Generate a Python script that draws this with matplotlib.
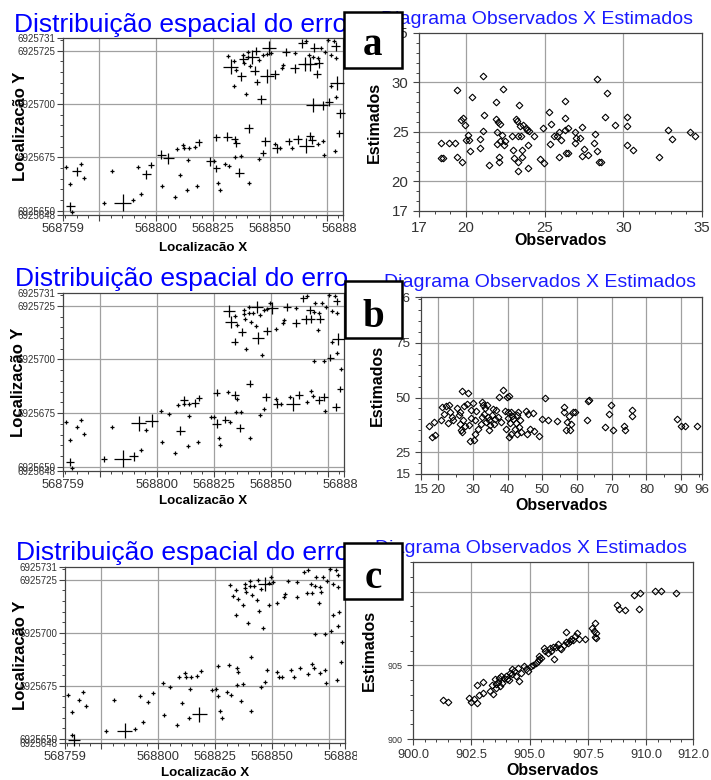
import numpy as np
import matplotlib.pyplot as plt
from matplotlib.patches import Rectangle
from matplotlib.ticker import MultipleLocator

plt.rcParams['font.family'] = ['Liberation Sans', 'DejaVu Sans']

# --- data -----------------------------------------------------------------
X0, Y0 = 568700, 6925600   # UTM base, locations below are offsets

loc_x = [60.4, 62.2, 65.0, 66.8, 68.4, 62.2, 63.0, 76.9, 80.4, 85.2,
         89.9, 92.1, 93.1, 95.5, 97.8, 102.1, 102.3, 105.3, 108.0, 109.2,
         110.4, 111.8, 112.1, 114.0, 114.3, 113.6, 116.8, 118.6, 118.0, 123.6,
         125.3, 126.3, 130.1, 131.9, 136.4, 127.2, 127.9, 140.7, 140.7, 126.4,
         131.1, 134.5, 135.1, 134.6, 137.0, 145.3, 146.8, 147.9, 152.2, 152.8,
         154.3, 158.2, 159.6, 162.1, 165.8, 167.5, 168.4, 170.9, 173.2, 173.5,
         164.2, 165.7, 169.3, 172.5, 175.6, 178.2, 178.9, 174.3, 176.9, 179.1,
         167.0, 168.9, 171.2, 165.2, 167.7, 171.4, 170.6, 160.8, 160.8, 157.0,
         155.6, 155.1, 152.1, 150.4, 149.7, 148.4, 146.9, 145.2, 144.0, 142.1,
         140.4, 140.4, 138.2, 138.2, 138.6, 141.1, 143.3, 134.3, 131.6, 132.6,
         135.1, 137.3, 134.1, 139.2, 144.4, 146.1, 148.4, 169.0, 173.4, 175.9,
         176.6, 179.4, 179.1, 180.8, 180.4, 178.6]
loc_y = [70.7, 62.6, 68.4, 72.0, 65.3, 52.0, 49.3, 53.5, 68.4, 53.8,
         54.8, 70.3, 57.7, 67.1, 71.5, 76.2, 61.4, 74.6, 56.3, 78.9,
         66.8, 80.9, 79.2, 73.6, 79.3, 59.8, 79.8, 82.0, 61.6, 73.1,
         73.4, 70.0, 72.0, 70.8, 67.9, 63.2, 59.9, 63.2, 88.7, 84.4,
         84.8, 83.6, 81.7, 75.4, 75.7, 74.2, 77.0, 82.5, 81.4, 79.3,
         79.3, 82.5, 79.3, 83.6, 80.4, 85.1, 83.2, 81.2, 82.5, 76.2,
         128.6, 129.4, 126.4, 126.4, 129.9, 129.4, 127.1, 124.4, 122.8, 121.7,
         123.0, 122.1, 121.7, 118.8, 118.8, 119.1, 113.9, 123.9, 116.9, 124.6,
         118.3, 116.9, 114.1, 123.9, 126.3, 123.6, 123.0, 120.8, 124.7, 121.9,
         124.3, 121.9, 123.0, 121.3, 119.1, 117.7, 115.6, 120.3, 122.4, 117.5,
         116.0, 113.0, 108.3, 104.7, 110.2, 102.3, 113.3, 99.4, 99.4, 100.8,
         108.3, 109.7, 103.1, 95.6, 86.4, 77.8]

# error magnitude (cross size) of the points that are not minimal
erro_min = 4
erro_a = {5: 9, 2: 9, 9: 17, 13: 9, 14: 6, 15: 9, 17: 11, 27: 7, 29: 9, 31: 7,
          39: 7, 40: 9, 41: 7, 42: 7, 34: 9, 38: 9, 47: 9, 46: 6, 49: 9, 53: 9,
          54: 15, 55: 8, 56: 8, 99: 15, 101: 9, 93: 9, 89: 14, 96: 9, 88: 8,
          104: 6, 105: 9, 106: 14, 84: 14, 82: 9, 78: 9, 79: 8, 60: 9, 73: 14,
          74: 14, 75: 9, 76: 8, 107: 14, 108: 9, 109: 8, 62: 9, 111: 14,
          113: 9, 66: 9, 114: 7, 51: 7}
erro_b = {5: 8, 9: 17, 11: 15, 14: 13, 10: 9, 7: 6, 20: 9, 21: 8, 26: 8, 27: 6,
          39: 7, 31: 9, 32: 7, 41: 8, 34: 8, 38: 7, 47: 8, 49: 8, 52: 14,
          53: 8, 57: 8, 58: 8, 115: 8, 114: 6, 98: 12, 99: 12, 101: 8, 102: 7,
          104: 12, 88: 12, 106: 8, 83: 12, 79: 8, 78: 8, 73: 9, 70: 8, 74: 8,
          75: 8, 111: 12, 109: 7, 66: 7, 60: 7}
erro_c = {6: 12, 9: 15, 28: 15, 86: 14}

obs_a = [18.38, 18.38, 18.50, 18.93, 19.29, 19.40, 19.44, 19.66, 19.79, 19.76,
         19.94, 20.00, 20.09, 20.15, 20.26, 20.36, 20.85, 20.90, 21.05, 21.07,
         21.15, 21.47, 21.92, 21.92, 21.97, 21.97, 22.01, 22.07, 22.12, 22.14,
         22.18, 22.29, 22.35, 22.39, 22.50, 22.93, 22.99, 23.03, 23.14, 23.21,
         23.29, 23.29, 23.31, 23.35, 23.42, 23.46, 23.57, 23.57, 23.63, 23.78,
         23.89, 23.93, 23.95, 24.00, 24.32, 24.70, 24.91, 24.96, 25.28, 25.34,
         25.38, 25.56, 25.77, 25.92, 25.92, 26.03, 26.30, 26.30, 26.30, 26.37,
         26.45, 26.50, 26.92, 26.94, 26.99, 27.26, 27.35, 27.35, 27.48, 27.74,
         28.12, 28.21, 28.33, 28.33, 28.48, 28.59, 28.85, 28.93, 29.49, 30.26,
         30.26, 30.26, 30.64, 32.26, 32.86, 33.08, 34.25, 34.53]
est_a = [23.87, 22.34, 22.34, 23.87, 23.87, 29.27, 22.44, 26.19, 26.43, 22.00,
         25.65, 24.22, 24.73, 24.22, 23.02, 28.48, 23.36, 24.28, 30.70, 25.14,
         26.67, 21.66, 28.07, 26.26, 24.97, 23.77, 25.99, 22.44, 22.00, 24.04,
         25.75, 24.73, 29.33, 23.70, 24.04, 24.56, 23.19, 22.34, 26.33, 26.09,
         24.56, 22.00, 21.08, 27.70, 25.58, 24.62, 23.19, 22.51, 25.65, 25.41,
         25.24, 23.70, 21.38, 25.14, 24.62, 22.24, 25.41, 21.89, 27.01, 23.81,
         25.75, 24.62, 24.56, 22.44, 24.97, 24.22, 28.14, 26.43, 25.24, 22.85,
         22.85, 25.41, 24.97, 23.87, 24.39, 24.39, 25.48, 22.58, 23.26, 22.68,
         23.87, 24.80, 30.36, 23.02, 21.93, 21.93, 26.54, 28.89, 25.65, 26.54,
         25.58, 23.63, 23.19, 22.44, 25.24, 24.28, 24.97, 24.62]

obs_b = [17.34, 18.29, 19.05, 18.86, 20.76, 20.95, 21.71, 22.09, 22.85, 23.13,
         23.32, 23.80, 24.27, 25.51, 25.89, 26.17, 26.36, 26.65, 26.84, 26.93,
         27.12, 27.41, 27.79, 28.17, 28.55, 28.74, 29.02, 29.31, 29.50, 29.97,
         30.26, 30.45, 30.64, 30.92, 31.40, 32.16, 32.54, 32.63, 32.82, 33.11,
         33.49, 33.77, 34.06, 34.25, 34.53, 34.72, 35.00, 35.38, 35.67, 36.14,
         36.33, 36.62, 37.09, 37.47, 38.04, 38.52, 39.18, 39.47, 39.75, 39.94,
         40.13, 40.42, 40.42, 40.70, 40.89, 41.08, 41.37, 41.65, 42.03, 42.32,
         42.60, 42.79, 42.98, 43.27, 43.55, 43.93, 45.17, 45.45, 45.83, 46.40,
         47.35, 47.54, 48.97, 49.91, 50.86, 51.53, 54.19, 56.28, 56.09, 56.66,
         57.04, 57.80, 57.99, 58.18, 58.94, 59.32, 62.93, 63.21, 63.50, 68.15,
         69.19, 69.86, 70.33, 73.66, 73.94, 75.84, 75.84, 88.85, 90.09, 91.23,
         94.55]
est_b = [37.16, 32.02, 32.78, 38.67, 39.58, 45.62, 42.60, 45.92, 38.37, 46.37,
         43.35, 41.09, 39.58, 45.32, 41.84, 43.35, 38.07, 35.35, 34.29, 53.17,
         39.88, 45.92, 36.86, 46.83, 52.11, 37.31, 30.06, 40.79, 44.11, 47.43,
         30.51, 39.88, 33.53, 43.81, 35.80, 38.07, 41.09, 47.89, 46.37, 42.60,
         45.32, 38.82, 46.68, 41.09, 35.05, 39.88, 37.31, 41.84, 44.86, 38.07,
         40.33, 44.41, 41.09, 50.45, 38.82, 53.47, 43.81, 35.80, 50.45, 43.35,
         40.79, 32.02, 50.91, 38.37, 43.35, 33.53, 41.39, 40.33, 35.80, 38.52,
         33.53, 41.84, 43.35, 36.56, 39.88, 34.29, 43.81, 33.53, 42.30, 35.80,
         42.90, 34.74, 32.33, 40.33, 49.85, 39.88, 39.12, 45.62, 43.35, 35.35,
         38.82, 41.39, 35.05, 38.07, 43.35, 43.35, 39.58, 48.34, 48.64, 36.56,
         42.60, 46.37, 35.35, 36.86, 35.05, 44.11, 41.69, 40.33, 36.86, 36.86,
         36.86]

obs_c = [901.30, 901.52, 902.38, 902.50, 902.60, 902.75, 902.75, 902.82, 902.99, 902.99,
         903.28, 903.37, 903.42, 903.51, 903.54, 903.57, 903.65, 903.68, 903.71, 903.76,
         903.83, 903.90, 903.97, 904.04, 904.12, 904.15, 904.23, 904.26, 904.33, 904.43,
         904.48, 904.55, 904.62, 904.77, 904.84, 904.91, 905.05, 905.16, 905.27, 905.34,
         905.39, 905.41, 905.49, 905.63, 905.67, 905.78, 905.85, 905.92, 905.99, 906.06,
         906.14, 906.21, 906.28, 906.35, 906.45, 906.54, 906.57, 906.64, 906.71, 906.79,
         906.86, 906.93, 907.03, 907.12, 907.36, 907.69, 907.75, 907.80, 907.84, 907.80,
         907.84, 908.76, 908.81, 909.09, 909.46, 909.67, 909.72, 910.39, 910.61, 911.26]
est_c = [902.63, 902.54, 902.77, 902.52, 902.70, 903.67, 902.43, 902.97, 903.89, 903.15,
         903.26, 903.67, 903.04, 904.10, 903.49, 903.71, 903.87, 904.16, 903.60, 904.28,
         903.83, 904.16, 904.28, 904.10, 904.01, 904.46, 904.39, 904.77, 904.62, 904.28,
         904.84, 903.94, 904.50, 904.95, 904.73, 904.62, 904.95, 905.00, 905.14, 905.29,
         905.63, 905.41, 905.52, 906.20, 905.97, 905.81, 906.20, 905.97, 906.26, 905.45,
         906.26, 906.42, 906.20, 906.08, 906.35, 906.58, 907.28, 906.49, 906.65, 906.76,
         906.72, 906.99, 907.21, 906.81, 906.81, 907.55, 907.33, 907.89, 907.21, 906.94,
         906.87, 909.06, 908.84, 908.75, 909.74, 908.79, 909.88, 910.03, 910.06, 909.88]

map_xticks = [568759, 568775, 568800, 568825, 568850, 568875, 568882]
map_xticklabels = ['568759', '', '568800', '568825', '568850', '', '568882']
map_yticks = [6925648, 6925650, 6925675, 6925700, 6925725, 6925731]
map_xgrid = [568775, 568800, 568825, 568850, 568875]
map_ygrid = [6925650, 6925675, 6925700, 6925725]

# --- layout ---------------------------------------------------------------
W, H = 711, 780
fig = plt.figure(figsize=(W / 100, H / 100), dpi=100)
GRID = '#a0a0a0'
TXT = '#333333'


def box(x0, y0, x1, y1):
    # pixel box measured from the top-left corner -> figure fraction
    return [x0 / W, 1 - y1 / H, (x1 - x0) / W, (y1 - y0) / H]


def style(ax):
    for s in ax.spines.values():
        s.set_color('#444444')
        s.set_linewidth(0.9)
    ax.tick_params(which='both', direction='out', color='#444444', labelcolor=TXT)
    ax.tick_params(which='major', length=4, width=0.8)
    ax.tick_params(which='minor', length=2.5, width=0.7)


def mapa(rect, erro, ylab_x, xlab_y):
    ax = fig.add_axes(box(*rect))
    ax.set_zorder(1)
    sz = np.full(len(loc_x), float(erro_min))
    for i, s in erro.items():
        sz[i] = s
    ax.scatter(X0 + np.array(loc_x), Y0 + np.array(loc_y), s=(sz * 0.72) ** 2,
               marker='+', c='k', linewidths=0.9, zorder=3, clip_on=False)
    ax.set_xlim(568759, 568882)
    ax.set_ylim(6925648, 6925731)
    for g in map_xgrid:
        ax.axvline(g, color=GRID, lw=0.9, zorder=1)
    for g in map_ygrid:
        ax.axhline(g, color=GRID, lw=0.9, zorder=1)
    style(ax)
    ax.set_xticks(map_xticks, map_xticklabels, fontsize=9.3)
    ax.set_yticks(map_yticks, [str(t) for t in map_yticks], fontsize=7)
    ax.xaxis.set_minor_locator(MultipleLocator(5))
    ax.yaxis.set_minor_locator(MultipleLocator(5))
    ax.tick_params(axis='x', pad=2)
    ax.tick_params(axis='y', pad=1.5)
    ax.set_xlabel('Localizacão X', fontsize=9.6, fontweight='bold')
    ax.set_ylabel('Localizacão Y', fontsize=12, fontweight='bold')
    ax.xaxis.set_label_coords(0.5, xlab_y)
    ax.yaxis.set_label_coords(ylab_x, 0.5)
    return ax


def dispersao(rect, obs, est, xlim, ylim, xt, xtl, yt, ytl, gx, gy, mx, my,
              fx, fy, xlab_y):
    ax = fig.add_axes(box(*rect))
    ax.set_zorder(3)
    ax.plot(obs, est, 'D', ms=3.4, mfc='none', mec='k', mew=0.8, zorder=3)
    ax.set_xlim(*xlim)
    ax.set_ylim(*ylim)
    for g in gx:
        ax.axvline(g, color=GRID, lw=0.9, zorder=1)
    for g in gy:
        ax.axhline(g, color=GRID, lw=0.9, zorder=1)
    style(ax)
    ax.set_xticks(xt, xtl, fontsize=fx)
    ax.set_yticks(yt, ytl, fontsize=fy)
    ax.xaxis.set_minor_locator(MultipleLocator(mx))
    ax.yaxis.set_minor_locator(MultipleLocator(my))
    ax.set_xlabel('Observados', fontsize=11.5, fontweight='bold')
    ax.set_ylabel('Estimados', fontsize=11.5, fontweight='bold')
    ax.xaxis.set_label_coords(0.5, xlab_y)
    ax.yaxis.set_label_coords(-0.13, 0.5)
    return ax


# white backing of the right-hand charts (crops the left x labels)
for y0, y1 in [(0, 258), (258, 520), (520, 780)]:
    fig.add_artist(Rectangle((357 / W, 1 - y1 / H), (W - 357) / W, (y1 - y0) / H,
                             transform=fig.transFigure, fc='white', ec='none',
                             zorder=2))

mapa((63, 38, 343, 215), erro_a, -0.125, -0.15)
mapa((63, 293, 344, 471), erro_b, -0.132, -0.135)
mapa((65, 567, 345, 743), erro_c, -0.132, -0.135)

dispersao((419, 33, 702, 211), obs_a, est_a, (17, 35), (17, 35),
          [17, 20, 25, 30, 35], ['17', '20', '25', '30', '35'],
          [17, 20, 25, 30, 35], ['17', '20', '25', '30', '35'],
          [20, 25, 30], [20, 25, 30], 1, 1, 10.8, 10.8, -0.125)
dispersao((421, 297, 702, 474), obs_b, est_b, (15, 96), (15, 96),
          [15, 20, 30, 40, 50, 60, 70, 80, 90, 96],
          ['15', '20', '30', '40', '50', '60', '70', '80', '90', '96'],
          [15, 25, 50, 75, 96], ['15', '25', '50', '75', '96'],
          [20, 30, 40, 50, 60, 70, 80, 90], [25, 50, 75], 5, 5, 9.7, 9.7, -0.135)
dispersao((413, 562, 693, 739), obs_c, est_c, (900, 912), (900, 912),
          [900, 902.5, 905, 907.5, 910, 912],
          ['900.0', '902.5', '905.0', '907.5', '910.0', '912.0'],
          [900, 905], ['900', '905'],
          [902.5, 905, 907.5, 910], [905, 910], 0.5, 1, 9.2, 6.5, -0.135)

# titles
for x, y in [(14, 32), (15, 286), (16, 560)]:
    fig.text(x / W, 1 - y / H, 'Distribuição espacial do erro', color='#0000ff',
             fontsize=19, ha='left', va='baseline', zorder=4)
for x, y in [(693, 24), (696, 287), (687, 553)]:
    fig.text(x / W, 1 - y / H, 'Diagrama Observados X Estimados', color='#1a1aff',
             fontsize=14, ha='right', va='baseline', zorder=4)

# panel letters
for letra, (x0, y0, x1, y1), base in [('a', (344, 12, 402, 68), 55),
                                      ('b', (345, 281, 402, 338), 327),
                                      ('c', (344, 543, 402, 599), 588)]:
    fig.add_artist(Rectangle((x0 / W, 1 - y1 / H), (x1 - x0) / W, (y1 - y0) / H,
                             transform=fig.transFigure, fc='white', ec='black',
                             lw=1.8, zorder=5))
    fig.text((x0 + x1) / 2 / W, 1 - base / H, letra, fontsize=28, fontweight='bold',
             family=['Liberation Serif', 'DejaVu Serif'], ha='center',
             va='baseline', zorder=6)

fig.savefig('out.png', dpi=100)
